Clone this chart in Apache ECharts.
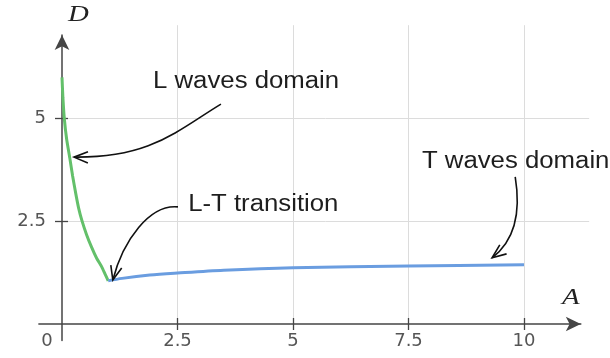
<!DOCTYPE html>
<html>
<head>
<meta charset="utf-8">
<script src="https://cdn.jsdelivr.net/npm/echarts@6/dist/echarts.min.js"></script>
<style>html,body{margin:0;padding:0;background:#fff}#c{width:610px;height:358px}</style>
</head>
<body>
<div id="c"></div>
<script>
// ---- data ----
var lWaveA = [0, 0.02, 0.05, 0.10, 0.17, 0.23, 0.30, 0.36, 0.43, 0.53, 0.64, 0.75, 0.86, 0.93, 1.0];
var lWaveD = [6.0, 5.5, 5.0, 4.5, 4.03, 3.6, 3.16, 2.82, 2.52, 2.18, 1.87, 1.6, 1.39, 1.22, 1.05];
var tWaveA = [1.0, 1.3, 1.9, 2.5, 3.5, 5, 7.5, 10];
var tWaveD = [1.05, 1.11, 1.19, 1.24, 1.31, 1.37, 1.41, 1.44];
var xTicks = [2.5, 5, 7.5, 10];
var yTicks = [2.5, 5];
var xLabels = [0, 2.5, 5, 7.5, 10];
var annotationTexts = ['L waves domain', 'L-T transition', 'T waves domain'];

// ---- layout (data-space extents) ----
var W = 610, H = 358;
var ox = 62, oy = 324, kx = 46.2, ky = 41.1;
function gridFor(xmin, xmax, ymin, ymax) {
  return {
    left: ox + xmin * kx,
    right: W - (ox + xmax * kx),
    top: oy - ymax * ky,
    bottom: H - (oy - ymin * ky)
  };
}
var g0 = gridFor(-0.5, 11.23, -0.4, 7.03);
var g1 = gridFor(0, 11.41, 0, 7.27);

function zip(a, b) { return a.map(function (v, i) { return [v, b[i]]; }); }

var axisColor = '#454545';
var labelFont = { fontFamily: 'DejaVu Sans', fontSize: 18, color: '#555' };

var chart = echarts.init(document.getElementById('c'), null, { renderer: 'canvas' });
chart.setOption({
  animation: false,
  backgroundColor: '#fff',
  grid: [
    { left: g0.left, right: g0.right, top: g0.top, bottom: g0.bottom },
    { left: g1.left, right: g1.right, top: g1.top, bottom: g1.bottom }
  ],
  xAxis: [
    {
      gridIndex: 0, type: 'value', min: -0.5, max: 11.23,
      axisLine: { onZero: true, lineStyle: { color: axisColor, width: 1.5 },
        symbol: ['none', 'arrow'], symbolSize: [11, 15] },
      axisTick: { show: true, inside: true, length: 6, customValues: xTicks,
        lineStyle: { color: axisColor, width: 1.3 } },
      axisLabel: { show: false },
      splitLine: { show: false }
    },
    {
      gridIndex: 1, type: 'value', min: 0, max: 11.41, interval: 2.5,
      axisLine: { show: false },
      axisTick: { show: true, length: 6, customValues: xTicks,
        lineStyle: { color: axisColor, width: 1.3 } },
      axisLabel: Object.assign({ show: true, margin: 8, customValues: xLabels,
        formatter: function (v) { return v === 0 ? '{z|0}' : String(v); },
        rich: { z: { fontFamily: 'DejaVu Sans', fontSize: 18, color: '#555', padding: [0, 30, 0, 0] } }
      }, labelFont),
      splitLine: { show: true, showMinLine: true, showMaxLine: true,
        lineStyle: { color: '#dcdcdc', width: 1 } }
    }
  ],
  yAxis: [
    {
      gridIndex: 0, type: 'value', min: -0.4, max: 7.03,
      axisLine: { onZero: true, lineStyle: { color: axisColor, width: 1.5 },
        symbol: ['none', 'arrow'], symbolSize: [11, 15] },
      axisTick: { show: true, inside: true, length: 6, customValues: yTicks,
        lineStyle: { color: axisColor, width: 1.3 } },
      axisLabel: { show: false },
      splitLine: { show: false }
    },
    {
      gridIndex: 1, type: 'value', min: 0, max: 7.27, interval: 2.5,
      axisLine: { show: false },
      axisTick: { show: true, length: 7, customValues: yTicks,
        lineStyle: { color: axisColor, width: 1.3 } },
      axisLabel: Object.assign({ show: true, margin: 16, customValues: yTicks }, labelFont),
      splitLine: { show: true, showMinLine: true, showMaxLine: true,
        lineStyle: { color: '#dcdcdc', width: 1 } }
    }
  ],
  series: [
    {
      type: 'line', xAxisIndex: 1, yAxisIndex: 1, data: zip(lWaveA, lWaveD),
      smooth: 0.2, symbol: 'none',
      lineStyle: { color: '#63c06a', width: 3 }, z: 3
    },
    {
      type: 'line', xAxisIndex: 1, yAxisIndex: 1, data: zip(tWaveA, tWaveD),
      smooth: 0.3, symbol: 'none',
      lineStyle: { color: '#6a9de0', width: 3 }, z: 3
    }
  ]
});

// ---- annotations (anchors in data units) ----
var notes = [
  { text: annotationTexts[0], at: [1.97, 5.90],
    curve: [[3.44, 5.35], [2.45, 4.67], [1.90, 4.04], [0.26, 4.06]] },
  { text: annotationTexts[1], at: [2.73, 2.90],
    curve: [[2.51, 2.85], [1.90, 2.92], [1.32, 2.04], [1.10, 1.07]] },
  { text: annotationTexts[2], at: [7.79, 3.95],
    curve: [[9.81, 3.58], [9.91, 2.90], [9.87, 2.09], [9.31, 1.61]] }
];
function P(p) { return chart.convertToPixel({ gridIndex: 1 }, p); }
var elements = [];
notes.forEach(function (n) {
  var t = P(n.at);
  elements.push({ type: 'text', x: t[0], y: t[1], scaleX: 1.12, z: 10,
    style: { text: n.text, font: '23px "Liberation Sans", Arial, sans-serif',
      fill: '#1e1e1e', textVerticalAlign: 'middle', textAlign: 'left' } });
  var c = n.curve.map(P);
  elements.push({ type: 'bezierCurve', z: 10,
    shape: { x1: c[0][0], y1: c[0][1], cpx1: c[1][0], cpy1: c[1][1],
      cpx2: c[2][0], cpy2: c[2][1], x2: c[3][0], y2: c[3][1] },
    style: { stroke: '#111', lineWidth: 1.6, fill: null } });
  var ang = Math.atan2(c[2][1] - c[3][1], c[2][0] - c[3][0]);
  var L = 15, sp = 22 * Math.PI / 180;
  elements.push({ type: 'polyline', z: 10,
    shape: { points: [
      [c[3][0] + L * Math.cos(ang + sp), c[3][1] + L * Math.sin(ang + sp)],
      [c[3][0], c[3][1]],
      [c[3][0] + L * Math.cos(ang - sp), c[3][1] + L * Math.sin(ang - sp)]
    ] },
    style: { stroke: '#111', lineWidth: 1.6, fill: null } });
});
var dPos = P([0.13, 7.52]);
var aPos = P([10.82, 0.63]);
elements.push({ type: 'text', x: dPos[0], y: dPos[1], scaleX: 1.2, z: 10,
  style: { text: 'D', font: 'italic 24px "Liberation Serif", serif', fill: '#222',
    textVerticalAlign: 'middle', textAlign: 'left' } });
elements.push({ type: 'text', x: aPos[0], y: aPos[1], scaleX: 1.2, z: 10,
  style: { text: 'A', font: 'italic 24px "Liberation Serif", serif', fill: '#222',
    textVerticalAlign: 'middle', textAlign: 'left' } });
chart.setOption({ graphic: { elements: elements } });
</script>
</body>
</html>
